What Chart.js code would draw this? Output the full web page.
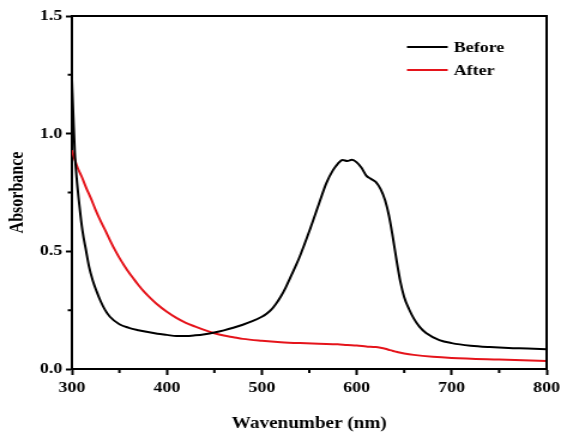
<!DOCTYPE html>
<html>
<head>
<meta charset="utf-8">
<script src="https://cdn.jsdelivr.net/npm/chart.js@4.4.1/dist/chart.umd.min.js"></script>
<style>
  html, body { margin: 0; padding: 0; background: #fff; overflow: hidden; }
  #wrap { width: 468px; height: 433px; transform: scaleX(1.1987); transform-origin: 0 0; }
</style>
</head>
<body>
<div id="wrap"><canvas id="c" width="468" height="433"></canvas></div>
<script>
// ---- Data ----
const seriesLabels = ['Before', 'After'];

const beforeX = [300,301.5,303,305,308,311,315,318,322,326,330,335,340,350,360,370,380,390,400,410,420,430,440,450,460,470,480,490,500,505,510,515,520,525,530,535,540,550,560,568,575,580,585,590,595,600,605,610,615,620,625,630,634,638,642,646,650,655,660,666,673,687,700,720,740,760,780,800];
const beforeY = [1.23,1.07,0.92,0.81,0.69,0.59,0.50,0.435,0.375,0.33,0.29,0.25,0.222,0.19,0.175,0.165,0.157,0.15,0.145,0.14,0.14,0.143,0.148,0.155,0.164,0.175,0.188,0.203,0.222,0.235,0.252,0.277,0.308,0.345,0.388,0.432,0.478,0.585,0.70,0.79,0.845,0.872,0.888,0.884,0.889,0.878,0.855,0.822,0.808,0.795,0.765,0.715,0.65,0.56,0.46,0.37,0.305,0.255,0.215,0.18,0.153,0.123,0.11,0.099,0.093,0.089,0.087,0.084];

const afterX = [300,303,306,310,315,320,325,330,335,340,345,350,355,360,365,370,375,380,390,400,410,420,430,440,450,460,470,480,500,520,540,560,580,590,600,610,620,625,630,635,640,645,650,660,680,700,750,800];
const afterY = [0.93,0.89,0.855,0.82,0.77,0.725,0.675,0.63,0.59,0.548,0.508,0.472,0.44,0.41,0.383,0.357,0.333,0.312,0.274,0.243,0.217,0.196,0.18,0.165,0.152,0.142,0.135,0.128,0.12,0.114,0.11,0.107,0.105,0.102,0.1,0.096,0.093,0.09,0.086,0.08,0.075,0.07,0.066,0.06,0.052,0.047,0.04,0.034];

const xMajorTicks = [300, 400, 500, 600, 700, 800];
const xMinorTicks = [350, 450, 550, 650, 750];
const yMajorTicks = [0.0, 0.5, 1.0, 1.5];
const yMinorTicks = [0.25, 0.75, 1.25];

const colors = ['#000000', '#e5141b'];
const FONT = "'Liberation Serif', 'Times New Roman', serif";

const toPts = (xs, ys) => xs.map((x, i) => ({ x: x, y: ys[i] }));

const framePlugin = {
  id: 'frame',
  afterDraw(chart) {
    const ctx = chart.ctx;
    const a = chart.chartArea;
    const xs = chart.scales.x, ys = chart.scales.y;
    ctx.save();
    ctx.strokeStyle = '#000';
    ctx.lineWidth = 2;
    ctx.beginPath();
    ctx.moveTo(a.left, a.top);
    ctx.lineTo(a.right, a.top);
    ctx.lineTo(a.right, a.bottom);
    ctx.stroke();
    // minor ticks
    ctx.beginPath();
    xMinorTicks.forEach(v => {
      const px = xs.getPixelForValue(v);
      ctx.moveTo(px, a.bottom);
      ctx.lineTo(px, a.bottom + 4);
    });
    yMinorTicks.forEach(v => {
      const py = ys.getPixelForValue(v);
      ctx.moveTo(a.left, py);
      ctx.lineTo(a.left - 3.5, py);
    });
    ctx.stroke();
    // legend
    ctx.font = "bold 15px " + FONT;
    ctx.textBaseline = 'middle';
    ctx.textAlign = 'left';
    const rows = [47, 70];
    chart.data.datasets.forEach((ds, i) => {
      const y = rows[i];
      ctx.strokeStyle = ds.borderColor;
      ctx.lineWidth = 2;
      ctx.beginPath();
      ctx.moveTo(339.5, y);
      ctx.lineTo(373.5, y);
      ctx.stroke();
      ctx.fillStyle = '#000';
      ctx.fillText(ds.label, 378.5, y + 1);
    });
    ctx.restore();
  }
};

new Chart(document.getElementById('c'), {
  type: 'line',
  data: {
    datasets: [
      { label: seriesLabels[0], data: toPts(beforeX, beforeY), borderColor: colors[0], borderWidth: 2, pointRadius: 0, cubicInterpolationMode: 'monotone', fill: false },
      { label: seriesLabels[1], data: toPts(afterX, afterY), borderColor: colors[1], borderWidth: 2, pointRadius: 0, cubicInterpolationMode: 'monotone', fill: false }
    ]
  },
  options: {
    responsive: false,
    animation: false,
    events: [],
    layout: { padding: { top: 16, right: 12, left: 0, bottom: 0 } },
    plugins: { legend: { display: false }, tooltip: { enabled: false } },
    scales: {
      x: {
        type: 'linear',
        min: 300, max: 800,
        afterBuildTicks: s => { s.ticks = xMajorTicks.map(v => ({ value: v })); },
        afterFit: s => { s.height = 64; s.paddingLeft = 0; s.paddingRight = 0; },
        ticks: { color: '#000', font: { family: FONT, size: 15, weight: 'bold' }, padding: 4, maxRotation: 0, autoSkip: false },
        grid: { drawOnChartArea: false, tickLength: 6, tickWidth: 2, tickColor: '#000' },
        border: { color: '#000', width: 2 },
        title: { display: true, text: 'Wavenumber (nm)', color: '#000', font: { family: FONT, size: 16, weight: 'bold' }, padding: { top: 5, bottom: 0 } }
      },
      y: {
        min: 0, max: 1.5,
        afterBuildTicks: s => { s.ticks = yMajorTicks.map(v => ({ value: v })); },
        afterFit: s => { s.width = 60; s.paddingTop = 0; s.paddingBottom = 0; },
        ticks: { color: '#000', font: { family: FONT, size: 15, weight: 'bold' }, padding: 3, callback: v => Number(v).toFixed(1) },
        grid: { drawOnChartArea: false, tickLength: 5, tickWidth: 2, tickColor: '#000' },
        border: { color: '#000', width: 2 },
        title: { display: true, text: 'Absorbance', color: '#000', font: { family: FONT, size: 16, weight: 'bold' }, padding: { top: 5, bottom: 0 } }
      }
    }
  },
  plugins: [framePlugin]
});
</script>
</body>
</html>
